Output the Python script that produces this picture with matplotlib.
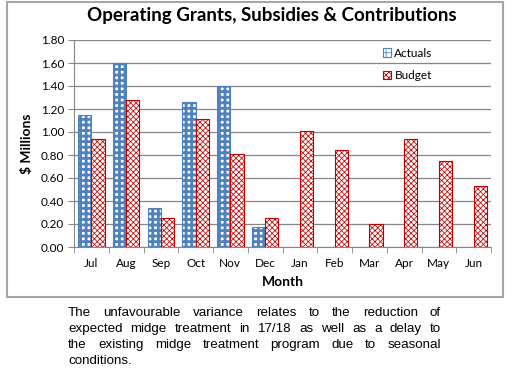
import matplotlib
matplotlib.use("Agg")
import matplotlib.pyplot as plt
import numpy as np
from matplotlib.patches import Rectangle

months = ["Jul", "Aug", "Sep", "Oct", "Nov", "Dec", "Jan", "Feb", "Mar", "Apr", "May", "Jun"]
actuals = [1.15, 1.60, 0.34, 1.26, 1.40, 0.17]
budget = [0.94, 1.28, 0.25, 1.11, 0.81, 0.25, 1.01, 0.84, 0.20, 0.94, 0.75, 0.53]
note_lines = [
    "The unfavourable variance relates to the reduction of",
    "expected midge treatment in 17/18 as well as a delay to",
    "the existing midge treatment program due to seasonal",
    "conditions.",
]

W, H = 513, 376
fig = plt.figure(figsize=(W / 100, H / 100), dpi=100)

# chart frame
fig.patches.append(Rectangle((7 / W, 1 - 297 / H), 496 / W, 295 / H, transform=fig.transFigure,
                             fill=False, edgecolor="#a6a6a6", linewidth=1.5))

ax = fig.add_axes([74 / W, 1 - 247 / H, (491 - 74) / W, (247 - 40) / H])
x = np.arange(len(months))
bw = 0.38
plt.rcParams["hatch.linewidth"] = 2.0
ax.bar(x[:len(actuals)] - bw / 2, actuals, bw, facecolor="white", edgecolor="#4f81bd",
       hatch="+++", linewidth=0.8, label="Actuals", zorder=3)
plt.rcParams["hatch.linewidth"] = 0.55
ax.bar(x - bw / 2 + bw, budget, bw, facecolor="white", edgecolor="#c00000",
       hatch="xxxxxx", linewidth=0.8, label="Budget", zorder=3)

ax.set_ylim(0, 1.8)
ax.set_xlim(-0.5, len(months) - 0.5)
ax.set_yticks(np.arange(0, 1.81, 0.2))
ax.set_yticklabels([f"{v:.2f}" for v in np.arange(0, 1.81, 0.2)])
ax.set_xticks(x)
ax.set_xticklabels(months)
ax.set_xticks(np.arange(-0.5, len(months), 1), minor=True)
ax.tick_params(axis="x", which="major", length=0, pad=8)
ax.tick_params(axis="x", which="minor", length=4, color="#868686")
ax.tick_params(axis="y", length=4, color="#868686", pad=3)
for lab in ax.get_xticklabels() + ax.get_yticklabels():
    lab.set_fontsize(8.5)
    lab.set_family("Lato")
ax.grid(axis="y", color="#868686", linewidth=0.9, zorder=0)
for s in ["top", "right"]:
    ax.spines[s].set_visible(False)
ax.spines["left"].set_color("#868686")
ax.spines["bottom"].set_color("#868686")

ax.set_xlabel("Month", fontsize=10, fontweight="bold", family="Lato", labelpad=5)
ax.set_ylabel("$ Millions", fontsize=10, fontweight="bold", family="Lato", labelpad=6)
fig.text(272 / W, 1 - 16 / H, "Operating Grants, Subsidies & Contributions", ha="center", va="center",
         fontsize=13.5, fontweight="bold", family="Lato")

ax.legend(loc="upper left", bbox_to_anchor=((372 - 74) / (491 - 74), 1.015), frameon=False,
          prop={"family": "Lato", "size": 8.5}, handlelength=0.7, handleheight=0.7,
          handletextpad=0.3, labelspacing=1.0)

# justified note text
renderer = fig.canvas.get_renderer()
left, right = 68, 441
ys = [313, 329, 345, 361]
for i, line in enumerate(note_lines):
    words = line.split()
    y = 1 - ys[i] / H
    if i == len(note_lines) - 1:
        fig.text(left / W, y, line, ha="left", va="center", fontsize=9.6, family="Liberation Sans")
        continue
    objs = [fig.text(0, y, w, ha="left", va="center", fontsize=9.6, family="Liberation Sans") for w in words]
    widths = [o.get_window_extent(renderer).width for o in objs]
    gap = (right - left - sum(widths)) / (len(words) - 1)
    pos = left
    for o, w in zip(objs, widths):
        o.set_x(pos / W)
        pos += w + gap

fig.savefig("out.png", dpi=100)
